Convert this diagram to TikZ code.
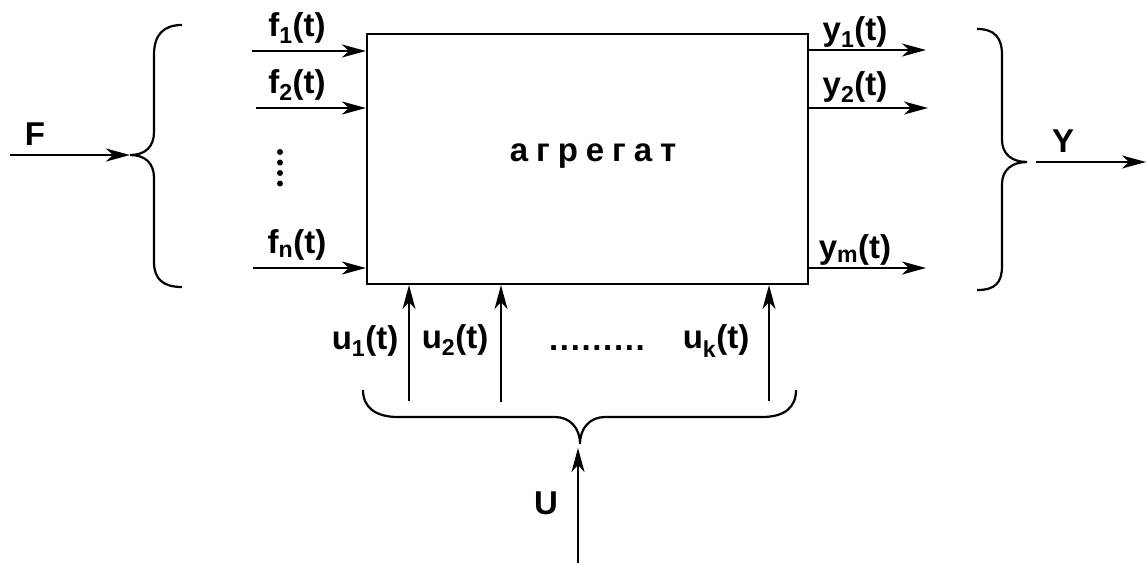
\documentclass[tikz,border=0pt]{standalone}
\usepackage{fontspec}
\setmainfont{Liberation Sans}
\usetikzlibrary{arrows.meta}
\begin{document}
\begin{tikzpicture}[x=1pt,y=-1pt,line width=2.2pt,
  arr/.style={-{Stealth[length=24pt,width=13pt,inset=7pt]}},
  lbl/.style={font=\bfseries\fontsize{33}{36}\selectfont,inner sep=0pt},
  brace/.style={line width=2.2pt},
  dotmark/.style={fill=black,draw=none}]
\useasboundingbox (0,0) rectangle (1146,563);
% main box
\node[draw,minimum width=441pt,minimum height=250pt,inner sep=0pt] (box) at (587.5,159) {};
\node[font=\bfseries\fontsize{33}{36}\selectfont\addfontfeature{LetterSpace=24},inner sep=0pt,anchor=base] (name) at (593,161) {агрегат};
% inputs
\coordinate (f1s) at (252,51);
\coordinate (f2s) at (256,108);
\coordinate (fns) at (253,268);
\draw[arr] (f1s) -- (f1s -| box.west);
\draw[arr] (f2s) -- (f2s -| box.west);
\draw[arr] (fns) -- (fns -| box.west);
\node[lbl] (f1l) at (297,28) {f\textsubscript{1}(t)};
\node[lbl] (f2l) at (297,85) {f\textsubscript{2}(t)};
\node[lbl] (fnl) at (297,245) {f\textsubscript{n}(t)};
\fill[dotmark] (280,152) circle (3) (280,162.5) circle (3) (280,173) circle (3) (280,183.5) circle (3);
% left brace and F
\coordinate (ltip) at (130,155);
\draw[brace] (182,25) .. controls (163,25) and (154,35) .. (154,55) -- (154,132)
  .. controls (154,147) and (145,155) .. (ltip)
  .. controls (145,155) and (154,163) .. (154,178) -- (154,262)
  .. controls (154,279) and (163,287) .. (182,287);
\coordinate (Fs) at (10,155);
\draw[arr] (Fs) -- (ltip);
\node[lbl] (Fl) at (35,134) {F};
% outputs
\coordinate (y1e) at (926,50);
\coordinate (y2e) at (928,108);
\coordinate (yme) at (926,268);
\draw[arr] (y1e -| box.east) -- (y1e);
\draw[arr] (y2e -| box.east) -- (y2e);
\draw[arr] (yme -| box.east) -- (yme);
\node[lbl] (y1l) at (855,32) {y\textsubscript{1}(t)};
\node[lbl] (y2l) at (855,87) {y\textsubscript{2}(t)};
\node[lbl] (yml) at (855,250) {y\textsubscript{m}(t)};
% right brace and Y
\coordinate (rtip) at (1027,162);
\draw[brace] (977,29) .. controls (995,29) and (1002,38) .. (1002,55) -- (1002,140)
  .. controls (1002,154) and (1012,162) .. (rtip)
  .. controls (1012,162) and (1002,170) .. (1002,184) -- (1002,266)
  .. controls (1002,283) and (995,290) .. (977,290);
\coordinate (Ys) at (1036,162);
\coordinate (Ye) at (1146,162);
\draw[arr] (Ys) -- (Ye);
\node[lbl] (Yl) at (1063,141) {Y};
% control inputs
\coordinate (u1s) at (409,401);
\coordinate (u2s) at (501,402);
\coordinate (uks) at (769,401);
\draw[arr] (u1s) -- (u1s |- box.south);
\draw[arr] (u2s) -- (u2s |- box.south);
\draw[arr] (uks) -- (uks |- box.south);
\node[lbl] (u1l) at (365,341) {u\textsubscript{1}(t)};
\node[lbl] (u2l) at (455,340) {u\textsubscript{2}(t)};
\node[lbl] (ukl) at (716,341) {u\textsubscript{k}(t)};
\node[lbl,font=\bfseries\fontsize{33}{36}\selectfont\addfontfeature{LetterSpace=5},anchor=base] (udots) at (597,350) {.........};
% bottom brace and U
\coordinate (btip) at (580,444);
\draw[brace] (363,390) .. controls (363,407) and (375,417) .. (398,417) -- (555,417)
  .. controls (570,417) and (580,428) .. (btip)
  .. controls (580,428) and (590,417) .. (605,417) -- (762,417)
  .. controls (785,417) and (796,407) .. (796,390);
\coordinate (Us) at (578,563);
\draw[arr] (Us) -- (578,448);
\node[lbl] (Ul) at (546,503) {U};
\end{tikzpicture}
\end{document}
